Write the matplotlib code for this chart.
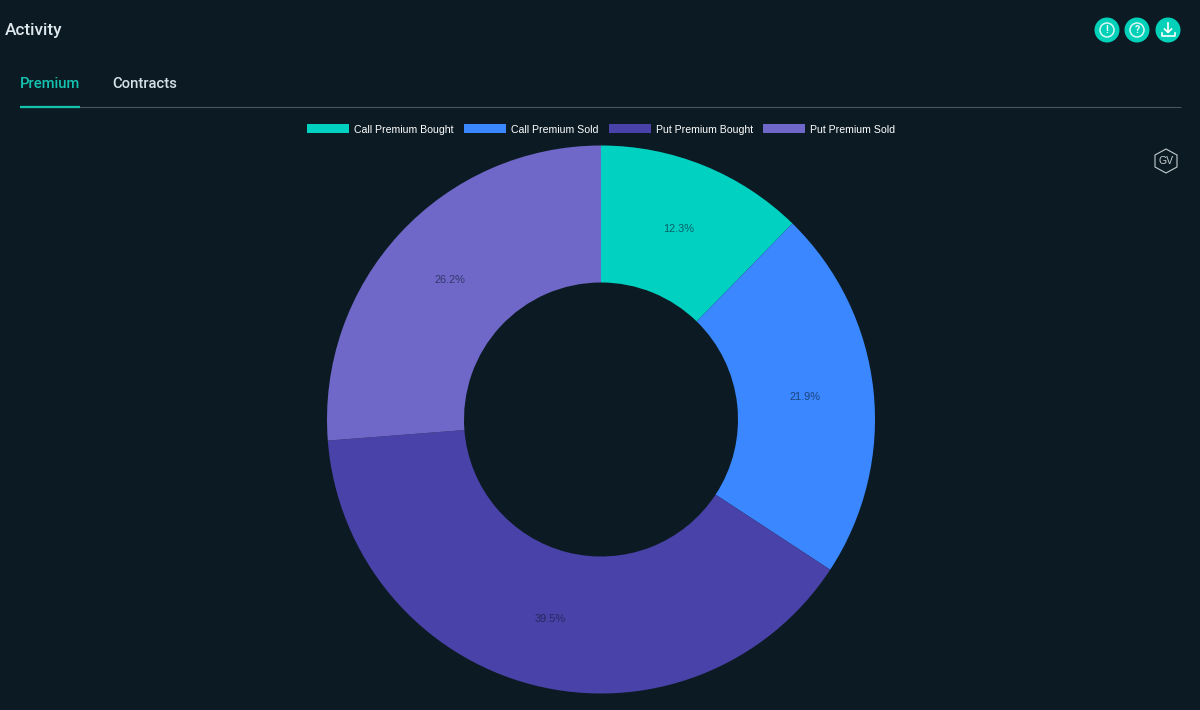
import matplotlib
matplotlib.use("Agg")
import matplotlib.pyplot as plt
from matplotlib.patches import Circle, Polygon

labels = ["Call Premium Bought", "Call Premium Sold", "Put Premium Bought", "Put Premium Sold"]
values = [12.3, 21.9, 39.5, 26.2]
colors = ["#00d1c0", "#3a87ff", "#4942a8", "#6f68c8"]
title = "Activity"
tabs = ["Premium", "Contracts"]

BG = "#0c1b23"
W, H = 1200, 710
fig = plt.figure(figsize=(W / 100, H / 100), dpi=100, facecolor=BG)

# Page furniture, in pixel coordinates
ui = fig.add_axes([0, 0, 1, 1])
ui.set_xlim(0, W)
ui.set_ylim(H, 0)
ui.axis("off")
ui.text(5, 30.5, title, color="#dfe8ec", fontsize=12.4, family="Roboto", weight="medium", va="center")
ui.text(20, 84.5, tabs[0], color="#14c2b0", fontsize=10.7, family="Roboto", weight="medium", va="center")
ui.text(112.5, 84.5, tabs[1], color="#d5e1e7", fontsize=10.6, family="Roboto", weight="medium", va="center")
ui.plot([20, 1181], [107, 107], color="#46555c", lw=0.8, solid_capstyle="butt")
ui.plot([20, 80], [106.5, 106.5], color="#14c2b0", lw=1.6, solid_capstyle="butt")

TEAL = "#00d1b8"
for cx in (1107, 1137, 1168):
    ui.add_patch(Circle((cx, 30), 12.5, fc=TEAL, ec="none"))
for cx, sym in ((1107, "!"), (1137, "?")):
    ui.add_patch(Circle((cx, 30), 7, fc="none", ec="#d8f7f2", lw=1.1))
    ui.text(cx, 30.3, sym, color="#e8fbf8", fontsize=7.5, ha="center", va="center", family="Roboto", weight="bold")
ui.plot([1168, 1168], [23, 32], color="white", lw=1.2)
ui.plot([1164.5, 1168, 1171.5], [29, 32.5, 29], color="white", lw=1.2)
ui.plot([1161.5, 1161.5, 1174.5, 1174.5], [33, 36, 36, 33], color="white", lw=1.2)

ui.add_patch(Polygon([(1166, 149), (1177, 155), (1177, 167), (1166, 173), (1155, 167), (1155, 155)],
                     closed=True, fc="none", ec="#c4cdd1", lw=0.8))
ui.text(1166, 161.5, "GV", color="#c4cdd1", fontsize=7.6, ha="center", va="center", family="Liberation Sans")

# Donut
R = 274
cx, cy = 601, 419.5
ax = fig.add_axes([(cx - R) / W, 1 - (cy + R) / H, 2 * R / W, 2 * R / H])
ax.set_facecolor("none")
wedges, _, autotexts = ax.pie(
    values, colors=colors, startangle=90, counterclock=False, radius=1,
    autopct="%.1f%%", pctdistance=0.75,
    wedgeprops=dict(width=0.5, edgecolor="none", linewidth=0),
    textprops=dict(color="#0c1b33", alpha=0.62, fontsize=7.9, family="Liberation Sans"),
)
ax.set_xlim(-1, 1)
ax.set_ylim(-1, 1)

leg = fig.legend(
    wedges, labels, loc="center", bbox_to_anchor=(601 / W, 1 - 129.5 / H), ncol=4,
    frameon=False, fontsize=7.55, handlelength=4.0, handleheight=0.95,
    handletextpad=0.48, columnspacing=1.0, borderpad=0, borderaxespad=0,
    labelcolor="white",
)
for t in leg.get_texts():
    t.set_family("Liberation Sans")
for h in leg.legend_handles:
    h.set_edgecolor("none")
    h.set_alpha(1)

fig.savefig("out.png", dpi=100, facecolor=BG)
